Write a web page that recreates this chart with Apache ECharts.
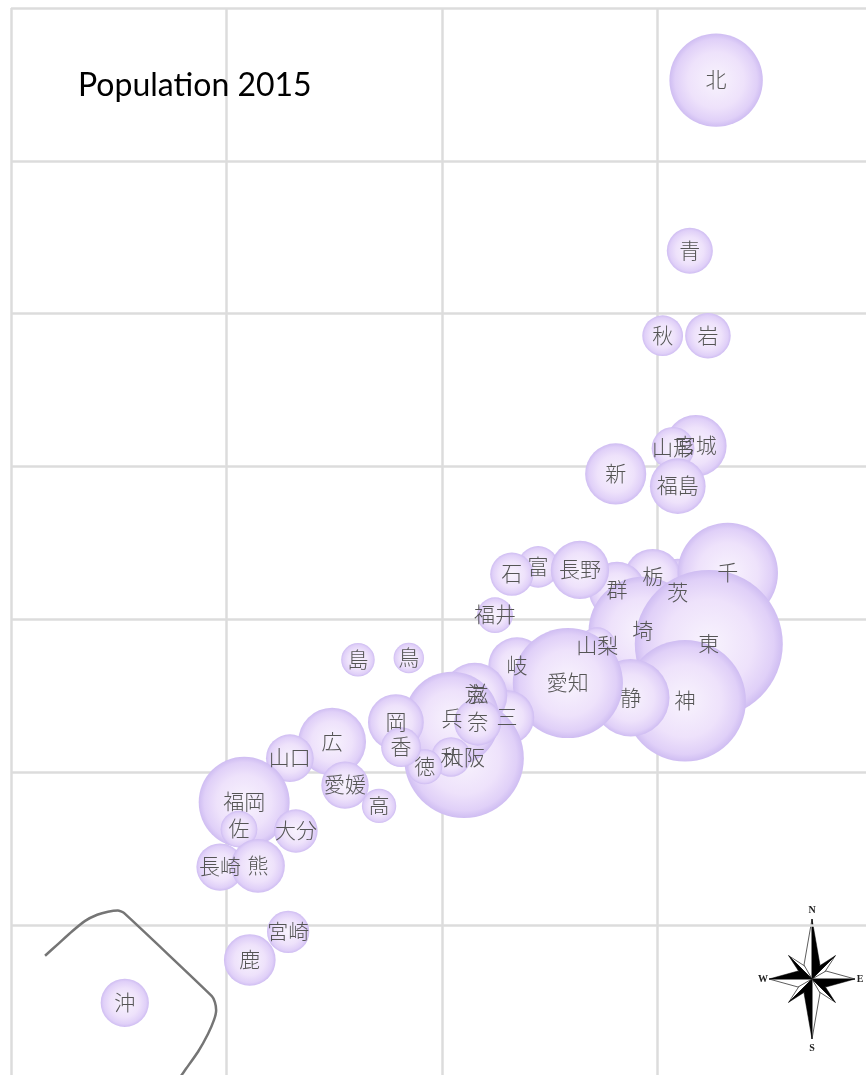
<!doctype html>
<html>
    <head>
        <meta charset="utf-8">
        <style>
            html, body { margin: 0; padding: 0; background: #fff; }
            #main { width: 866px; height: 1075px; }
        </style>
    </head>
    <body>
        <div id="main"></div>
        <script src="https://cdn.jsdelivr.net/npm/echarts@6/dist/echarts.min.js"></script>
        <script>
            var chart = echarts.init(document.getElementById('main'));

            // drawing order matters: later prefectures sit on top
            var names = ['北', '青', '岩', '宮城', '秋', '山形', '福島', '茨', '栃', '群', '埼', '千', '東', '神', '新', '富', '石', '福井', '山梨', '長野', '岐', '静', '愛知', '三', '滋', '京', '大阪', '兵', '奈', '和', '鳥', '島', '岡', '広', '山口', '徳', '香', '愛媛', '高', '福岡', '佐', '長崎', '熊', '大分', '宮崎', '鹿', '沖'];
            var lons = [141.36, 140.75, 141.17, 140.89, 140.12, 140.36, 140.47, 140.47, 139.89, 139.06, 139.66, 141.63, 141.19, 140.64, 139.03, 137.23, 136.62, 136.23, 138.60, 138.20, 136.74, 139.38, 137.92, 136.51, 135.83, 135.76, 135.51, 135.23, 135.83, 135.21, 134.23, 133.05, 133.93, 132.45, 131.47, 134.60, 134.05, 132.75, 133.54, 130.41, 130.29, 129.85, 130.73, 131.61, 131.43, 130.54, 127.64];
            var lats = [46.32, 43.53, 42.14, 40.34, 42.14, 40.30, 39.68, 37.93, 38.19, 37.98, 37.31, 38.26, 37.10, 36.17, 39.88, 38.36, 38.24, 37.57, 37.07, 38.31, 36.74, 36.22, 36.46, 35.90, 36.28, 36.26, 35.23, 35.87, 35.82, 35.25, 36.87, 36.84, 35.82, 35.50, 35.23, 35.09, 35.41, 34.79, 34.45, 34.51, 34.07, 33.45, 33.47, 34.04, 32.39, 31.93, 31.23];
            // population in thousands
            var population = [5382, 1308, 1280, 2334, 1023, 1124, 1914, 2917, 1974, 1973, 7267, 6223, 13515, 9126, 2304, 1066, 1154, 787, 835, 2099, 2032, 3700, 7483, 1816, 1413, 2610, 8839, 5535, 1364, 964, 573, 694, 1922, 2844, 1405, 756, 976, 1385, 728, 5102, 833, 1377, 1786, 1166, 1104, 1648, 1434];

            var okinawaLineLon = [125.79, 126.09, 126.42, 126.72, 127.00, 127.25, 127.48, 127.62, 129.66, 129.73, 129.76, 129.71, 129.57, 129.34, 129.06, 128.94];
            var okinawaLineLat = [32.00, 32.19, 32.40, 32.57, 32.67, 32.72, 32.74, 32.70, 31.34, 31.24, 31.11, 30.95, 30.72, 30.43, 30.15, 30.03];

            var bubbles = names.map(function (name, i) {
                return { name: name, value: [lons[i], lats[i], population[i]] };
            });
            var okinawaLine = okinawaLineLon.map(function (lon, i) {
                return [lon, okinawaLineLat[i]];
            });

            var bubbleFill = new echarts.graphic.RadialGradient(0.5, 0.5, 0.5, [
                { offset: 0, color: '#f8f3fd' },
                { offset: 0.6, color: '#eee2fb' },
                { offset: 0.88, color: '#e0d0f8' },
                { offset: 1, color: '#cfbdf2' }
            ]);

            // compass: one split point per direction, black half and white half
            var cx = 812, cy = 979;
            function compassPoint(angle, len, baseDist, halfW, flip) {
                var a = angle * Math.PI / 180;
                function at(along, across) {
                    return [
                        cx + along * Math.sin(a) + across * Math.cos(a),
                        cy - along * Math.cos(a) + across * Math.sin(a)
                    ];
                }
                return [
                    {
                        type: 'polygon',
                        silent: true,
                        shape: { points: [at(len, 0), at(baseDist, -halfW * flip), at(0, 0)] },
                        style: { fill: '#fff', stroke: '#333', lineWidth: 0.8 }
                    },
                    {
                        type: 'polygon',
                        silent: true,
                        shape: { points: [at(len, 0), at(baseDist, halfW * flip), at(0, 0)] },
                        style: { fill: '#000', stroke: '#000', lineWidth: 0.5 }
                    }
                ];
            }
            var compass = [];
            [45, 135, 225, 315].forEach(function (angle) {
                compass = compass.concat(compassPoint(angle, 33, 12, 4.5, -1));
            });
            [0, 90, 180, 270].forEach(function (angle) {
                compass = compass.concat(compassPoint(angle, angle % 180 ? 43 : 60, 14, 8, 1));
            });
            [['N', 812, 910], ['S', 812, 1048], ['W', 763, 979], ['E', 860, 979]].forEach(function (d) {
                compass.push({
                    type: 'text',
                    silent: true,
                    style: {
                        text: d[0],
                        x: d[1],
                        y: d[2],
                        align: 'center',
                        verticalAlign: 'middle',
                        font: 'bold 10px "Liberation Serif"',
                        fill: '#222'
                    }
                });
            });

            chart.setOption({
                animation: false,
                backgroundColor: '#fff',
                title: {
                    text: 'Population 2015',
                    left: 73,
                    top: 65,
                    textStyle: {
                        fontFamily: 'Lato',
                        fontSize: 32,
                        fontWeight: 'normal',
                        color: '#000'
                    }
                },
                grid: { left: 11, top: 8, width: 862, height: 1070, outerBoundsMode: 'none' },
                xAxis: {
                    type: 'value',
                    min: 125,
                    max: 145,
                    interval: 5,
                    axisLine: { show: false },
                    axisTick: { show: false },
                    axisLabel: { show: false },
                    splitLine: { show: true, lineStyle: { color: '#dcdcdc', width: 2.5 } }
                },
                yAxis: {
                    type: 'value',
                    min: 30,
                    max: 47.5,
                    interval: 2.5,
                    axisLine: { show: false },
                    axisTick: { show: false },
                    axisLabel: { show: false },
                    splitLine: { show: true, lineStyle: { color: '#dcdcdc', width: 2.5 } }
                },
                graphic: compass,
                series: [
                    {
                        type: 'line',
                        data: okinawaLine,
                        symbol: 'none',
                        smooth: 0.15,
                        silent: true,
                        lineStyle: { color: '#757575', width: 2.5 },
                        z: 1
                    },
                    {
                        type: 'scatter',
                        data: bubbles,
                        silent: true,
                        symbolSize: function (v) {
                            return 148 * Math.sqrt(v[2] / 13515);
                        },
                        itemStyle: { color: bubbleFill, opacity: 1 },
                        label: {
                            show: true,
                            position: 'inside',
                            offset: [0, -1],
                            formatter: '{b}',
                            fontFamily: 'Noto Sans CJK JP',
                            fontSize: 21,
                            fontWeight: 300,
                            color: '#555'
                        },
                        z: 2
                    }
                ]
            });

            window.onresize = chart.resize;
        </script>
    </body>
</html>
